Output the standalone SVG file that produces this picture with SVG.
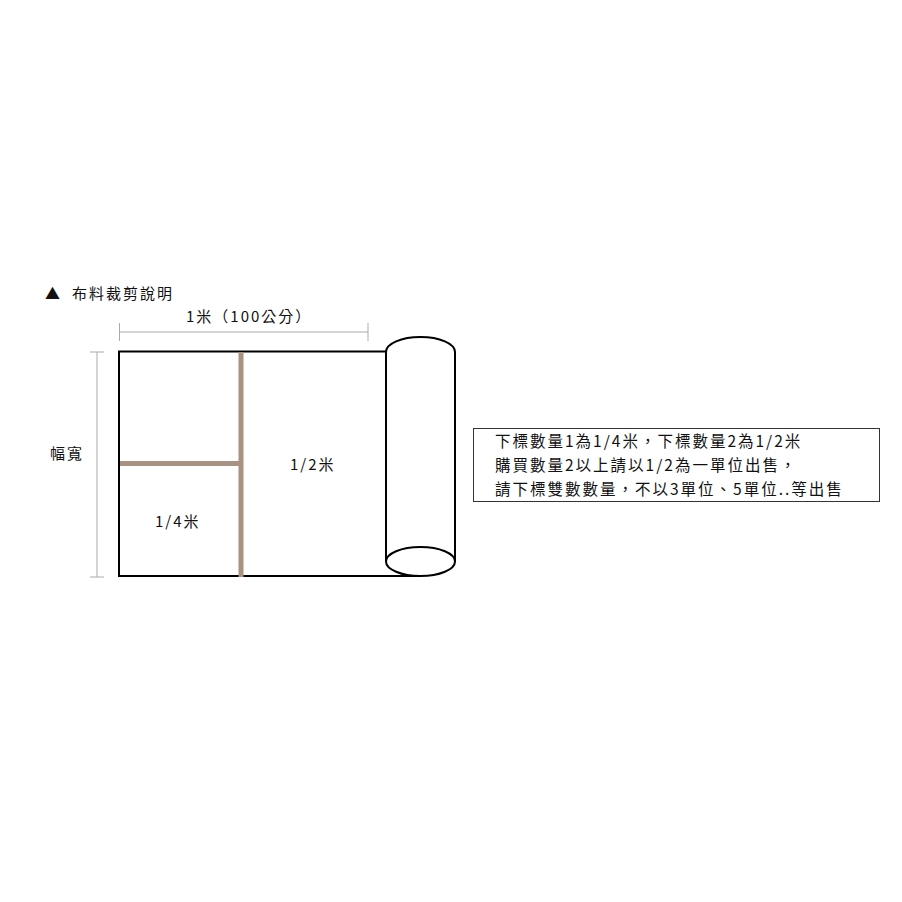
<svg xmlns="http://www.w3.org/2000/svg" width="902" height="902" viewBox="0 0 902 902">
<style>
.t{font-family:"Noto Sans CJK TC","Liberation Sans",sans-serif;fill:#111;letter-spacing:2px;}
.dim{stroke:#aaa;stroke-width:1;fill:none;}
.blk{stroke:#000;stroke-width:2;fill:none;}
.cut{stroke:#a89282;stroke-width:5;fill:none;}
</style>
<rect width="902" height="902" fill="#fff"/>
<text class="t" x="45" y="299" font-size="15">▲</text>
<text class="t" x="72" y="299" font-size="15">布料裁剪說明</text>
<g id="dims">
<path class="dim" d="M119.5 332H368M119.5 323V341M368 323V341"/>
<path class="dim" d="M97 352V577M90 352H104M90 577H104"/>
</g>
<text class="t" x="186" y="322" font-size="15">1米（100公分）</text>
<text class="t" x="50" y="459" font-size="15">幅寬</text>
<g id="fabric">
<path class="blk" d="M386 351.5H119V576H420"/>
<path class="blk" d="M386 561.5V352A34.5 15 0 0 1 455 352V561.5"/>
<ellipse class="blk" cx="420.5" cy="561.5" rx="34.5" ry="14.5" fill="#fff"/>
</g>
<g id="cuts">
<path class="cut" d="M241 352V577"/>
<path class="cut" d="M120 463.5H239"/>
</g>
<text class="t" x="290" y="470" font-size="15">1/2米</text>
<text class="t" x="155" y="527" font-size="15">1/4米</text>
<g id="note">
<rect x="473.5" y="428.5" width="406" height="73" fill="#fff" stroke="#333" stroke-width="1"/>
<text class="t" x="495" y="447" font-size="15.5">下標數量1為1/4米，下標數量2為1/2米</text>
<text class="t" x="495" y="471" font-size="15.5">購買數量2以上請以1/2為一單位出售，</text>
<text class="t" x="495" y="495" font-size="15.5">請下標雙數數量，不以3單位、5單位..等出售</text>
</g>
</svg>
